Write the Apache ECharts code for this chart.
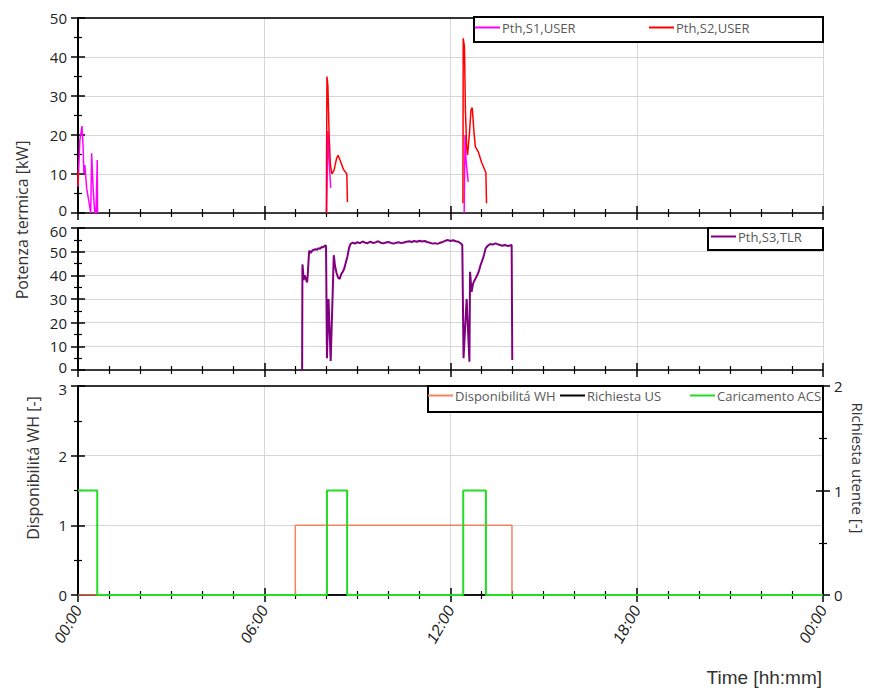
<!DOCTYPE html>
<html><head><meta charset="utf-8">
<script src="https://cdn.jsdelivr.net/npm/echarts@6/dist/echarts.min.js"></script>
<style>html,body{margin:0;padding:0;background:#fff}#c{width:870px;height:689px}</style>
</head><body><div id="c"></div>
<script>
// ---- tick labels ----
const timeTickLabels = ['00:00','06:00','12:00','18:00','00:00'];
const seriesNames = ['Pth,S1,USER','Pth,S2,USER','Pth,S3,TLR','Disponibilitá WH','Richiesta US','Caricamento ACS'];

// ---- Panel 1: Pth,S1,USER (hours, kW); null = gap ----
const s1Time = [0.00,0.06,0.13,0.16,0.19,0.22,0.25,0.28,0.41,0.44,0.49,0.54,0.58,0.62,0.63, 4.0, 8.01,8.05,8.08,8.14, 10.0, 12.44,12.47,12.50,12.57];
const s1Val  = [6.7,18.7,22.3,17.9,10.2,12.3,9.3,6.3,0,15.3,5.9,0,0,13.6,0, null, 0,21.0,15.0,6.4, null, 0,20.0,13.5,8.0];

// ---- Panel 1: Pth,S2,USER ----
const s2Time = [0.00,0.01, 4.0, 8.00,8.02,8.05,8.09,8.13,8.18,8.25,8.33,8.38,8.45,8.55,8.66,8.68, 10.0, 12.40,12.41,12.45,12.48,12.52,12.55,12.61,12.66,12.70,12.76,12.80,12.90,13.00,13.14,13.16];
const s2Val  = [11,7, null, 0,35,32.6,20,12.5,10.0,11.0,14.0,14.8,13.4,11.2,10.0,2.8, null, 2.5,44.8,42.6,26.4,17.0,14.9,20.4,26.4,27.0,20.4,17.0,15.6,13.0,10.4,2.5];

// ---- Panel 2: Pth,S3,TLR ----
const s3Time = [7.22,7.23,7.25,7.27,7.30,7.33,7.38,7.40,7.43,7.45,7.50,7.55,7.60,7.65,7.70,7.75,7.80,7.85,7.90,7.95,7.99,
  8.02,8.07,8.14,8.24,8.28,8.33,8.38,8.43,8.48,8.53,8.58,8.63,8.68,8.73,8.78,8.85,8.92,
  9.00,9.08,9.17,9.25,9.33,9.42,9.50,9.58,9.67,9.75,9.83,9.92,
  10.00,10.08,10.17,10.25,10.33,10.42,10.50,10.58,10.67,10.75,10.83,10.92,
  11.00,11.08,11.17,11.25,11.33,11.42,11.50,11.58,11.67,11.75,11.83,11.92,
  12.00,12.08,12.17,12.25,12.33,12.38,12.42,12.52,12.61,12.63,12.68,12.72,12.75,12.80,12.86,12.92,12.97,
  13.03,13.08,13.13,13.20,13.28,13.36,13.45,13.55,13.66,13.75,13.85,13.97,13.99];
const s3Val = [0,44.6,42,38,40,39,37,40,47,50.5,49.5,50.5,50.8,51,50.8,51.5,51.2,52,51.8,52.6,52.5,
  5,30,3.8,48.5,44,41,39,38.5,40.5,41.5,43,45.5,48,51.5,53.3,53.8,53.4,
  54,53.6,54.3,53.8,53.6,54.2,53.7,53.9,54.4,53.8,53.5,53.9,
  54.1,53.7,53.4,53.8,54,53.6,53.9,54.2,54.4,54.1,54.5,54.2,
  54.6,54.3,54.5,54.1,53.8,53.4,53.6,53.3,53.8,54.1,54.6,54.9,
  54.5,54.8,54.4,54.2,53.5,52.8,5,30,3.5,41.5,33,36,37.3,38.5,40,42,44.4,
  46.5,48.6,51.4,52.5,53.2,53,53.5,53,52.5,52.8,52.4,52.8,4.2];

// ---- Panel 3: step signals (value holds until next time) ----
const whTime = [0, 7.00, 13.98, 24];      // Disponibilitá WH (left axis)
const whVal  = [0, 1, 0, 0];
const usTime = [0, 24];                   // Richiesta US (right axis)
const usVal  = [0, 0];
const acsTime = [0, 0.62, 8.02, 8.67, 12.41, 13.14, 24]; // Caricamento ACS (right axis)
const acsVal  = [1, 0, 1, 0, 1, 0, 0];

function pairs(t, v) { return t.map((x, i) => [x, v[i] === null ? '-' : v[i]]); }

const GRID = '#d6d6d6';
const AXC = '#000';
const FONT = 'Open Sans';
const grids = [
  {left: 78, right: 47, top: 18, height: 195},
  {left: 78, right: 47, top: 228, height: 142},
  {left: 78, right: 47, top: 386, height: 209}
];
const allGrids = grids.concat(grids.map(g => Object.assign({}, g)));

function xBottom(gi, labels, inside) {
  return {
    type: 'value', gridIndex: gi, position: 'bottom', min: 0, max: 24, interval: 6,
    axisLine: {show: !inside, onZero: false, lineStyle: {color: AXC, width: 1.5}},
    axisTick: {show: true, inside: inside, length: 7, lineStyle: {color: AXC, width: 1.5}},
    minorTick: {show: true, splitNumber: 6, length: 4, lineStyle: {color: AXC, width: 1.2}},
    splitLine: {show: !inside, lineStyle: {color: GRID, width: 1}},
    axisLabel: labels ? {
      show: true, rotate: 60, margin: 12, fontFamily: 'Liberation Sans', fontStyle: 'italic', fontSize: 16, color: '#222',
      formatter: v => timeTickLabels[Math.round(v / 6)]
    } : {show: false}
  };
}
function xTop(gi) {
  return {type: 'value', gridIndex: gi, position: 'top', min: 0, max: 24, interval: 6,
    axisLine: {show: true, onZero: false, lineStyle: {color: '#333', width: 2}},
    axisTick: {show: false}, axisLabel: {show: false}, splitLine: {show: false}};
}
const lblStyle = {fontFamily: FONT, fontSize: 15, lineHeight: 15, color: '#222'};
function yAx(gi, max, interval, pos, inside, split, shiftMin, shiftMax) {
  const ax = {
    type: 'value', gridIndex: gi, position: pos, min: 0, max: max, interval: interval,
    axisLine: {show: !inside, onZero: false, lineStyle: {color: AXC, width: 2}},
    axisTick: {show: true, inside: inside, length: 7, lineStyle: {color: AXC, width: 1.5}},
    minorTick: {show: true, splitNumber: 2, length: 4, lineStyle: {color: AXC, width: 1.2}},
    splitLine: {show: !inside && split, lineStyle: {color: GRID, width: 1}},
    axisLabel: {show: false}
  };
  if (!inside) {
    ax.axisLabel = Object.assign({show: true, margin: 11,
      formatter: v => v === 0 && shiftMin ? '{up|' + v + '}' : (v === max && shiftMax ? '{dn|' + v + '}' : String(v)),
      rich: {
        up: Object.assign({padding: [0, 0, 6, 0]}, lblStyle),
        dn: Object.assign({padding: [6, 0, 0, 0]}, lblStyle)
      }}, lblStyle);
  }
  return ax;
}

const xAxes = [
  xBottom(0, false, false), xTop(0),
  xBottom(1, false, false), xTop(1),
  xBottom(2, true, false), xTop(2),
  xBottom(3, false, true), xBottom(4, false, true), xBottom(5, false, true)
];
const yAxes = [
  yAx(0, 50, 10, 'left', false, true, true, false),   // 0
  yAx(1, 60, 10, 'left', false, true, true, true),    // 1
  yAx(2, 3, 1, 'left', false, true, false, true),     // 2
  yAx(2, 2, 1, 'right', false, false, false, false),  // 3
  yAx(3, 50, 10, 'left', true, false),
  yAx(4, 60, 10, 'left', true, false),
  yAx(5, 3, 1, 'left', true, false),
  yAx(5, 2, 1, 'right', true, false)
];

function lineSeries(name, data, xi, yi, color, width, step) {
  const s = {name: name, type: 'line', xAxisIndex: xi, yAxisIndex: yi, data: data, showSymbol: false,
    symbol: 'none', connectNulls: false, lineStyle: {color: color, width: width}, itemStyle: {color: color},
    emphasis: {disabled: true}, animation: false};
  if (step) s.step = 'end';
  return s;
}

const series = [
  lineSeries(seriesNames[0], pairs(s1Time, s1Val), 0, 0, '#ff00ff', 1.5),
  lineSeries(seriesNames[1], pairs(s2Time, s2Val), 0, 0, '#ff0000', 1.5),
  lineSeries(seriesNames[2], pairs(s3Time, s3Val), 2, 1, '#800080', 2),
  lineSeries(seriesNames[4], pairs(usTime, usVal), 4, 3, '#000000', 1.5, true),
  lineSeries(seriesNames[3], pairs(whTime, whVal), 4, 2, '#f4845f', 1.5, true),
  lineSeries(seriesNames[5], pairs(acsTime, acsVal), 4, 3, '#22dd22', 2, true)
];

function leg(name, left, cy, color) {
  return {data: [name], left: left, top: cy - 9, padding: 0, itemWidth: 25, itemHeight: 2, itemGap: 0,
    icon: 'rect', selectedMode: false, z: 20,
    itemStyle: {color: color}, lineStyle: {color: color},
    textStyle: {fontFamily: FONT, fontSize: 13, color: '#595959', padding: [0, 0, 0, -3]}};
}
const legends = [
  leg(seriesNames[0], 475, 30, '#ff00ff'),
  leg(seriesNames[1], 649, 30, '#ff0000'),
  leg(seriesNames[2], 711, 239, '#800080'),
  leg(seriesNames[3], 428, 398, '#f4845f'),
  leg(seriesNames[4], 560, 398, '#000000'),
  leg(seriesNames[5], 690, 398, '#22dd22')
];

function box(x, y, w, h) {
  return {type: 'rect', z: 10, shape: {x: x, y: y, width: w, height: h},
    style: {fill: '#fff', stroke: '#000', lineWidth: 2}};
}
function label(text, x, y, rot, size, family, align) {
  return {type: 'text', z: 10, x: x, y: y, rotation: rot,
    style: {text: text, fill: '#333', font: size + 'px "' + family + '"', textAlign: align || 'center', textVerticalAlign: 'middle'}};
}

const chart = echarts.init(document.getElementById('c'), null, {renderer: 'svg', width: 870, height: 689});
chart.setOption({
  animation: false,
  backgroundColor: '#fff',
  grid: allGrids,
  xAxis: xAxes,
  yAxis: yAxes,
  legend: legends,
  series: series,
  graphic: [
    box(474, 17, 349, 25),
    box(708, 228, 115, 22),
    box(428, 386, 395, 26),
    label('Potenza termica [kW]', 22, 220, Math.PI / 2, 16, FONT),
    label('Disponibilitá WH [-]', 33, 468, Math.PI / 2, 16, FONT),
    label('Richiesta utente [-]', 858, 468, -Math.PI / 2, 15, FONT),
    label('Time [hh:mm]', 822, 677, 0, 19, 'Liberation Sans', 'right')
  ]
});
</script></body></html>
